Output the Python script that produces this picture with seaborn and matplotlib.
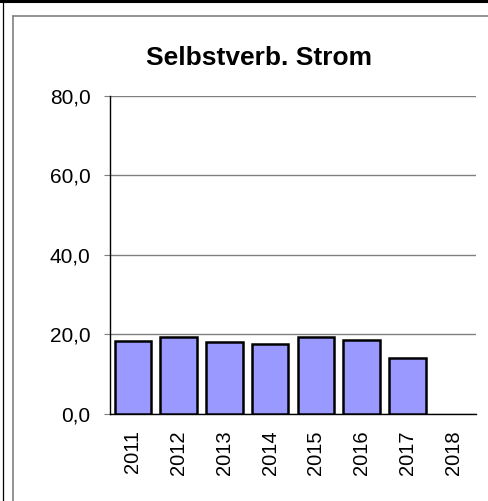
import numpy as np
import pandas as pd
import matplotlib
matplotlib.use("Agg")
import matplotlib.pyplot as plt
import seaborn as sns
from matplotlib.lines import Line2D
from matplotlib.ticker import FixedLocator, FuncFormatter

# Data
years = ["2011", "2012", "2013", "2014", "2015", "2016", "2017", "2018"]
values = [18.2, 19.4, 18.0, 17.6, 19.4, 18.5, 14.0, np.nan]
y_ticks = [0, 20, 40, 60, 80]
title = "Selbstverb. Strom"

df = pd.DataFrame({"Jahr": years, "Wert": values})

sns.set_style("white")
plt.rcParams["font.family"] = ["Liberation Sans", "DejaVu Sans"]
plt.rcParams["text.color"] = "black"
plt.rcParams["xtick.labelcolor"] = "black"
plt.rcParams["ytick.labelcolor"] = "black"

fig = plt.figure(figsize=(4.88, 5.01), dpi=100)
ax = fig.add_axes([0.2254, 0.1743, 0.75, 0.6341])

sns.barplot(data=df, x="Jahr", y="Wert", order=years, color="#9999FF",
            saturation=1, width=0.8, edgecolor="black", linewidth=1.8, ax=ax, zorder=3)

ax.set_xlim(-0.5, len(years) - 0.5)
ax.set_ylim(0, 80)
ax.set_yticks(y_ticks)
ax.yaxis.set_major_formatter(FuncFormatter(lambda v, p: f"{v:.1f}".replace(".", ",")))
ax.yaxis.grid(True, color="#808080", linewidth=1.0, zorder=0)
ax.set_axisbelow(True)

# x labels at the middle, tick marks between categories
ax.set_xticks(range(len(years)))
ax.set_xticklabels(years, rotation=90)
ax.xaxis.set_minor_locator(FixedLocator(np.arange(-0.5, len(years), 1.0)))
ax.tick_params(axis="x", which="major", length=0, pad=12, labelsize=14.5, labelcolor="black")
ax.tick_params(axis="x", which="minor", direction="inout", length=8.5, width=0.8, color="#808080")
ax.tick_params(axis="y", which="major", direction="out", length=4.5, width=0.8,
               color="#808080", labelsize=15, labelcolor="black", left=True, pad=9.5)

ax.set_xlabel("")
ax.set_ylabel("")
for side in ["top", "right"]:
    ax.spines[side].set_visible(False)
ax.spines["left"].set_color("black")
ax.spines["bottom"].set_color("black")
ax.spines["left"].set_linewidth(1.0)
ax.spines["bottom"].set_linewidth(1.0)

fig.text(258.5 / 488, 1 - 65 / 501, title, ha="center", va="baseline",
         fontsize=19, fontweight="bold", color="black")

# chart frame and sheet border
W, H = 488, 501
fig.add_artist(Line2D([12.7 / W, 12.7 / W], [0, 1 - 16 / H], color="#808080", linewidth=1.2))
fig.add_artist(Line2D([12.7 / W, 1], [1 - 16 / H, 1 - 16 / H], color="#808080", linewidth=1.2))
fig.add_artist(Line2D([0, 1], [1 - 1 / H, 1 - 1 / H], color="black", linewidth=2.2))
fig.add_artist(Line2D([2.5 / W, 2.5 / W], [0, 1 - 1 / H], color="black", linewidth=0.9))

fig.savefig("out.png", dpi=100)
